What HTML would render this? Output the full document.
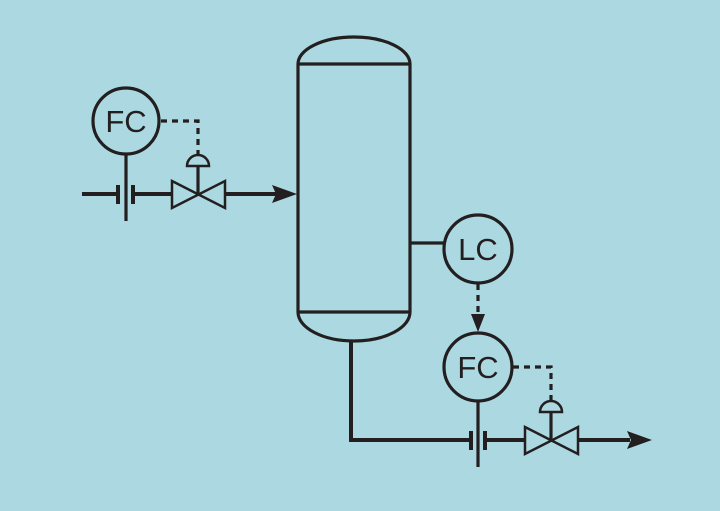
<!DOCTYPE html>
<html><head><style>body{margin:0;background:#acd9e1}svg{display:block}</style></head><body>
<svg width="720" height="511" viewBox="0 0 720 511" xmlns="http://www.w3.org/2000/svg">
<rect width="720" height="511" fill="#acd9e1"/>
<g stroke="#231f20" stroke-width="3.2" fill="none">
<!-- vessel -->
<path d="M298,312 V64 A56,27 0 0 1 410,64 V312 A56,29 0 0 1 298,312 Z"/>
<line x1="298" y1="64" x2="410" y2="64"/>
<line x1="298" y1="312" x2="410" y2="312"/>
<!-- top FC -->
<circle cx="126" cy="121" r="33"/>
<line x1="126" y1="154" x2="126" y2="221"/>
<line x1="82" y1="194" x2="118" y2="194" stroke-width="4"/>
<line x1="133" y1="194" x2="172" y2="194" stroke-width="4"/>
<line x1="118" y1="185" x2="118" y2="204" stroke-width="4"/>
<line x1="133" y1="185" x2="133" y2="204" stroke-width="4"/>
<path d="M172,181 L225,208 L225,181 L172,208 Z" stroke-width="2.5"/>
<line x1="198" y1="166" x2="198" y2="194"/>
<path d="M187,166 A11,11 0 0 1 209,166 Z" stroke-width="2.5"/>
<path d="M161,121 H198 V154" stroke-dasharray="6,5"/>
<line x1="225" y1="194" x2="276" y2="194" stroke-width="4"/>
<!-- LC -->
<line x1="410" y1="243" x2="444" y2="243"/>
<circle cx="478" cy="249" r="34"/>
<line x1="478" y1="284" x2="478" y2="318" stroke-dasharray="6,5"/>
<!-- bottom FC -->
<circle cx="478" cy="367" r="34"/>
<line x1="478" y1="401" x2="478" y2="467"/>
<path d="M351,341 V440 H471" stroke-width="4"/>
<line x1="485" y1="440" x2="525" y2="440" stroke-width="4"/>
<line x1="471" y1="431" x2="471" y2="450" stroke-width="4"/>
<line x1="485" y1="431" x2="485" y2="450" stroke-width="4"/>
<path d="M525,427 L578,454 L578,427 L525,454 Z" stroke-width="2.5"/>
<line x1="551" y1="412" x2="551" y2="440"/>
<path d="M540,412 A11,11 0 0 1 562,412 Z" stroke-width="2.5"/>
<path d="M513,367 H551 V400" stroke-dasharray="6,5"/>
<line x1="578" y1="440" x2="630" y2="440" stroke-width="4"/>
</g>
<g fill="#231f20">
<path d="M297,194 L272,185 L276,194 L272,203 Z"/>
<path d="M478,332 L471,314 L485,314 Z"/>
<path d="M652,440 L627,431 L631,440 L627,449 Z"/>
</g>
<g font-family="Liberation Sans, sans-serif" font-size="31" fill="#231f20" text-anchor="middle">
<text x="126" y="132">FC</text>
<text x="478" y="260">LC</text>
<text x="478" y="378">FC</text>
</g>
</svg>
</body></html>
